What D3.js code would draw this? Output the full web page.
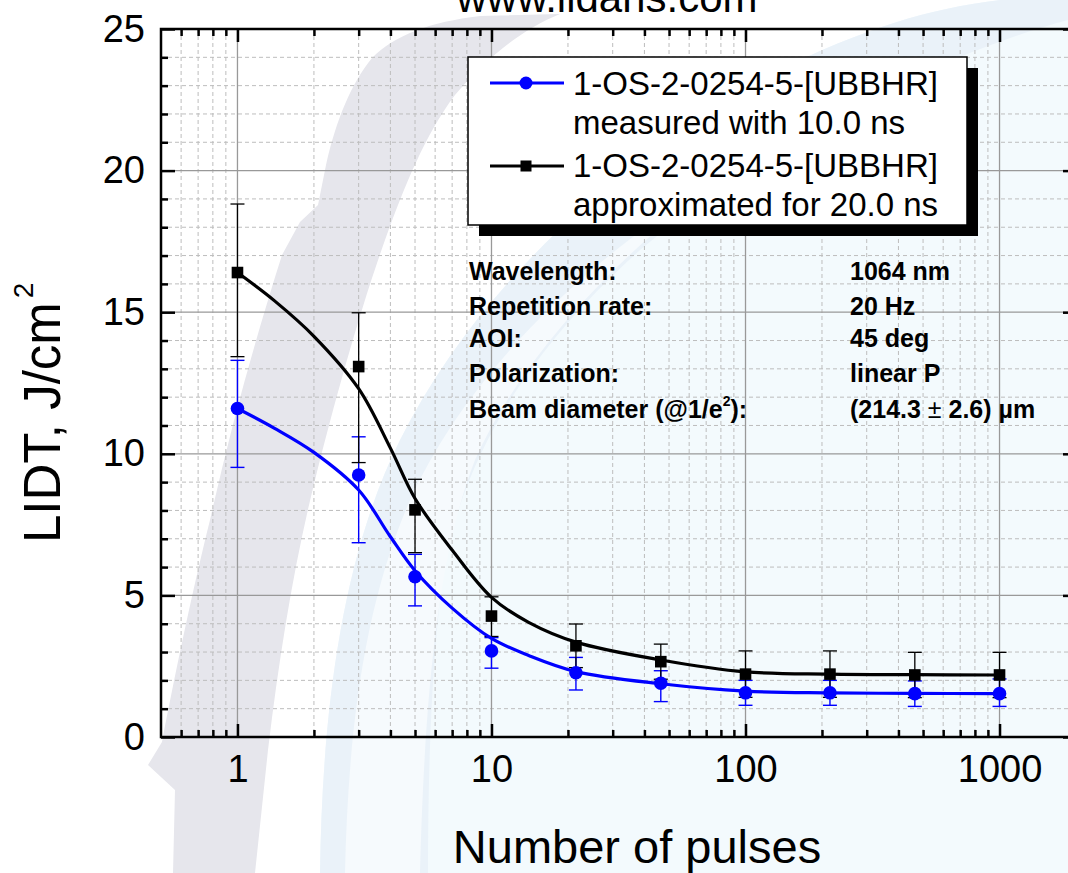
<!DOCTYPE html>
<html>
<head>
<meta charset="utf-8">
<script src="https://cdnjs.cloudflare.com/ajax/libs/d3/7.8.5/d3.min.js"></script>
<style>
  body { margin: 0; background: #fff; }
  svg { display: block; font-family: Arial, "Liberation Sans", sans-serif; }
</style>
</head>
<body>
<div class="chart"></div>
<script>
// measured points (number of pulses on log axis)
var pulses = [1, 3, 5, 10, 21.5, 46.4, 100, 215, 464, 1000];

var measured     = [11.6, 9.25, 5.66, 3.04, 2.27, 1.90, 1.56, 1.56, 1.53, 1.53];
var measuredLow  = [9.52, 6.86, 4.63, 2.43, 1.66, 1.25, 1.12, 1.12, 1.08, 1.08];
var measuredHigh = [13.3, 10.6, 6.45, 3.51, 2.81, 2.34, 2.00, 2.00, 1.98, 2.05];

var approx     = [16.4, 13.08, 8.02, 4.27, 3.22, 2.66, 2.22, 2.22, 2.19, 2.19];
var approxLow  = [13.43, 9.69, 6.51, 3.55, 2.45, 2.04, 1.40, 1.40, 1.39, 1.39];
var approxHigh = [18.82, 14.98, 9.10, 4.95, 3.99, 3.28, 3.04, 3.04, 2.99, 2.99];

// fitted curves
var fitX        = [1, 1.4, 2, 3, 4, 5, 7, 10, 14, 21.5, 46.4, 100, 215, 464, 1000];
var measuredFit = [11.6, 10.9, 10.05, 8.72, 7.07, 5.87, 4.55, 3.48, 2.88, 2.31, 1.88, 1.62, 1.56, 1.54, 1.53];
var approxFit   = [16.4, 15.4, 14.15, 12.3, 10.2, 8.42, 6.6, 4.93, 4.05, 3.35, 2.72, 2.30, 2.22, 2.20, 2.19];

var xMajor = [1, 10, 100, 1000];
var xMinor = [0.6, 0.7, 0.8, 0.9, 2, 3, 4, 5, 6, 7, 8, 9, 20, 30, 40, 50, 60, 70, 80, 90,
              200, 300, 400, 500, 600, 700, 800, 900];
var yMajor = [0, 5, 10, 15, 20, 25];
var yMinor = d3.range(1, 25).filter(function(d) { return d % 5 !== 0; });

var legendLines = [
  ["1-OS-2-0254-5-[UBBHR]", "measured with 10.0 ns"],
  ["1-OS-2-0254-5-[UBBHR]", "approximated for 20.0 ns"]
];
var infoLabels = ["Wavelength:", "Repetition rate:", "AOI:", "Polarization:", "Beam diameter (@1/e"];
var infoValues = ["1064 nm", "20 Hz", "45 deg", "linear P", "(214.3 "];

var W = 1068, H = 873;
var plotL = 161, plotR = 1076, plotT = 29, plotB = 737;

var svg = d3.select(".chart").append("svg")
  .attr("width", W)
  .attr("height", H);

// ---- lidaris watermark in the background ----
var wm = svg.append("g");
wm.append("path")
  .attr("d", "M320,873 C322,720 340,560 400,440 C470,300 600,170 780,70 C860,30 930,8 1000,0 L1068,0 L1068,873 Z")
  .attr("fill", "#f3fafd");
wm.append("path")
  .attr("d", "M320,873 C322,720 340,560 400,440 C470,300 600,170 780,70 C860,30 930,8 1000,0 L1068,0 L1068,20 C920,60 760,150 640,250 C540,340 470,440 445,560 C432,650 428,760 428,873 Z")
  .attr("fill", "#eaf2f9");
wm.append("path")
  .attr("d", "M345,873 C348,740 362,610 410,500 C460,390 560,280 700,190 L730,172 C610,260 520,360 475,460 C440,550 425,680 420,873 Z")
  .attr("fill", "#f6fafd");
wm.append("path")
  .attr("d", "M173,873 L175,790 L148,765 L162,742 C172,690 190,600 210,520 C230,430 255,340 282,255 L300,222 L318,205 L326,165 C336,120 352,82 372,58 C395,35 430,22 480,16 L560,14 C520,30 485,60 455,95 C425,135 405,185 385,240 C360,310 335,400 315,480 C295,560 280,650 268,750 L255,873 Z")
  .attr("fill", "#e6e6ec");

// title (cut off at the top edge)
svg.append("text")
  .attr("x", 607).attr("y", 12)
  .attr("text-anchor", "middle")
  .style("font-size", "42px")
  .text("www.lidaris.com");

var x = d3.scaleLog().domain([0.5, 2000]).range([plotL, plotR]);
var y = d3.scaleLinear().domain([0, 25]).range([plotB, plotT]);

// ---- grid ----
var grid = svg.append("g");
grid.selectAll(".gx-minor").data(xMinor).enter().append("line")
  .attr("x1", function(d) { return x(d); }).attr("x2", function(d) { return x(d); })
  .attr("y1", plotT).attr("y2", plotB)
  .attr("stroke", "#bdbdbd").attr("stroke-width", 1).attr("stroke-dasharray", "4,3");
grid.selectAll(".gy-minor").data(yMinor).enter().append("line")
  .attr("x1", plotL).attr("x2", plotR)
  .attr("y1", function(d) { return y(d); }).attr("y2", function(d) { return y(d); })
  .attr("stroke", "#bdbdbd").attr("stroke-width", 1).attr("stroke-dasharray", "4,3");
grid.selectAll(".gx-major").data(xMajor).enter().append("line")
  .attr("x1", function(d) { return x(d); }).attr("x2", function(d) { return x(d); })
  .attr("y1", plotT).attr("y2", plotB)
  .attr("stroke", "#999").attr("stroke-width", 1.3);
grid.selectAll(".gy-major").data(yMajor.slice(1, 5)).enter().append("line")
  .attr("x1", plotL).attr("x2", plotR)
  .attr("y1", function(d) { return y(d); }).attr("y2", function(d) { return y(d); })
  .attr("stroke", "#999").attr("stroke-width", 1.3);

// ---- axes (ticks point inwards) ----
function styleAxis(g) {
  g.select(".domain").remove();
  g.selectAll(".tick line").attr("stroke", "#000").attr("stroke-width", 2.5);
  g.selectAll(".tick text").style("font-size", "38px").attr("fill", "#000")
    .style("font-family", "Arial, 'Liberation Sans', sans-serif");
}

svg.append("g").attr("transform", "translate(0," + plotB + ")")
  .call(d3.axisBottom(x).tickValues(xMajor).tickSize(-13).tickPadding(18)
    .tickFormat(d3.format("d")))
  .call(styleAxis);
svg.append("g").attr("transform", "translate(0," + plotB + ")")
  .call(d3.axisBottom(x).tickValues(xMinor).tickSize(-7).tickFormat(""))
  .call(styleAxis);
svg.append("g").attr("transform", "translate(0," + plotT + ")")
  .call(d3.axisTop(x).tickValues(xMajor).tickSize(-13).tickFormat(""))
  .call(styleAxis);
svg.append("g").attr("transform", "translate(0," + plotT + ")")
  .call(d3.axisTop(x).tickValues(xMinor).tickSize(-7).tickFormat(""))
  .call(styleAxis);

svg.append("g").attr("transform", "translate(" + plotL + ",0)")
  .call(d3.axisLeft(y).tickValues(yMajor).tickSize(-14).tickPadding(16))
  .call(styleAxis);
svg.append("g").attr("transform", "translate(" + plotL + ",0)")
  .call(d3.axisLeft(y).tickValues(yMinor).tickSize(-7).tickFormat(""))
  .call(styleAxis);
svg.append("g").attr("transform", "translate(" + plotR + ",0)")
  .call(d3.axisRight(y).tickValues(yMajor).tickSize(-13).tickFormat(""))
  .call(styleAxis);
svg.append("g").attr("transform", "translate(" + plotR + ",0)")
  .call(d3.axisRight(y).tickValues(yMinor).tickSize(-7).tickFormat(""))
  .call(styleAxis);

// frame
svg.append("rect")
  .attr("x", plotL).attr("y", plotT)
  .attr("width", plotR - plotL).attr("height", plotB - plotT)
  .attr("fill", "none").attr("stroke", "#000").attr("stroke-width", 2.5);

// axis titles
svg.append("text")
  .attr("x", 637).attr("y", 863)
  .attr("text-anchor", "middle")
  .style("font-size", "47px")
  .text("Number of pulses");

var yTitle = svg.append("text")
  .attr("transform", "translate(60,543) rotate(-90)")
  .style("font-size", "51px");
yTitle.append("tspan").text("LIDT, J/cm");
yTitle.append("tspan").attr("dx", 4).attr("dy", -27).style("font-size", "28px").text("2");

// ---- data ----
var blue = "#0000ff";
var series = [
  { vals: measured, lo: measuredLow, hi: measuredHigh, fit: measuredFit, color: blue, width: 1.4 },
  { vals: approx, lo: approxLow, hi: approxHigh, fit: approxFit, color: "#000", width: 1.3 }
];

var plot = svg.append("g");

series.forEach(function(s) {
  var eb = plot.append("g").attr("stroke", s.color).attr("stroke-width", s.width);
  pulses.forEach(function(p, i) {
    var cx = x(p);
    eb.append("line").attr("x1", cx).attr("x2", cx).attr("y1", y(s.lo[i])).attr("y2", y(s.hi[i]));
    eb.append("line").attr("x1", cx - 7).attr("x2", cx + 7).attr("y1", y(s.lo[i])).attr("y2", y(s.lo[i]));
    eb.append("line").attr("x1", cx - 7).attr("x2", cx + 7).attr("y1", y(s.hi[i])).attr("y2", y(s.hi[i]));
  });
});

var line = d3.line()
  .x(function(d) { return x(d[0]); })
  .y(function(d) { return y(d[1]); })
  .curve(d3.curveCatmullRom.alpha(0.5));

series.forEach(function(s) {
  plot.append("path")
    .datum(d3.zip(fitX, s.fit))
    .attr("d", line)
    .attr("fill", "none")
    .attr("stroke", s.color)
    .attr("stroke-width", 3.2);
});

plot.selectAll(".dot").data(d3.zip(pulses, measured)).enter().append("circle")
  .attr("cx", function(d) { return x(d[0]); })
  .attr("cy", function(d) { return y(d[1]); })
  .attr("r", 6.8)
  .attr("fill", blue);

plot.selectAll(".sq").data(d3.zip(pulses, approx)).enter().append("rect")
  .attr("x", function(d) { return x(d[0]) - 5.8; })
  .attr("y", function(d) { return y(d[1]) - 5.8; })
  .attr("width", 11.6).attr("height", 11.6)
  .attr("fill", "#000");

// ---- legend ----
var lg = svg.append("g");
lg.append("rect").attr("x", 479).attr("y", 68).attr("width", 499).attr("height", 168).attr("fill", "#000");
lg.append("rect").attr("x", 468).attr("y", 57).attr("width", 499).attr("height", 168)
  .attr("fill", "#fff").attr("stroke", "#000").attr("stroke-width", 1.5);

var rowY = [83, 166];
var baseY = [[95, 134], [177, 216]];
series.forEach(function(s, i) {
  lg.append("line").attr("x1", 490).attr("x2", 564).attr("y1", rowY[i]).attr("y2", rowY[i])
    .attr("stroke", s.color).attr("stroke-width", 3);
  if (i === 0) {
    lg.append("circle").attr("cx", 526).attr("cy", rowY[i]).attr("r", 6.5).attr("fill", s.color);
  } else {
    lg.append("rect").attr("x", 520.5).attr("y", rowY[i] - 5.5).attr("width", 11).attr("height", 11).attr("fill", s.color);
  }
  legendLines[i].forEach(function(t, j) {
    lg.append("text").attr("x", 573).attr("y", baseY[i][j])
      .style("font-size", "33px").text(t);
  });
});

// ---- measurement conditions ----
var infoY = [280, 315, 347, 382, 418];
var info = svg.append("g").style("font-size", "25px").style("font-weight", "bold");
infoLabels.forEach(function(t, i) {
  var tx = info.append("text").attr("x", 469).attr("y", infoY[i]).text(t);
  if (i === 4) {
    tx.append("tspan").attr("dy", -12).style("font-size", "14px").text("2");
    tx.append("tspan").attr("dy", 12).text("):");
  }
});
infoValues.forEach(function(t, i) {
  var tx = info.append("text").attr("x", 850).attr("y", infoY[i]).text(t);
  if (i === 4) {
    tx.append("tspan").style("font-weight", "normal").text("±");
    tx.append("tspan").text(" 2.6) µm");
  }
});
</script>
</body>
</html>
